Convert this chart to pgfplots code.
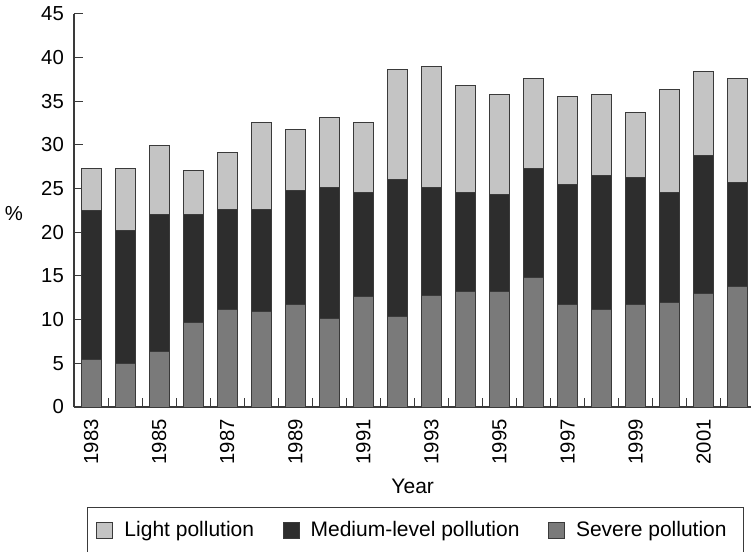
\documentclass[border=0pt]{standalone}
\usepackage{fontspec}
\setmainfont{Liberation Sans}
\usepackage{pgfplots}
\pgfplotsset{compat=1.18}
\definecolor{lightc}{HTML}{C4C4C4}
\definecolor{medc}{HTML}{2D2D2D}
\definecolor{sevc}{HTML}{7A7A7A}
\definecolor{edgec}{HTML}{3A3A3A}
\begin{document}
\begin{tikzpicture}[font=\fontsize{20.3bp}{24bp}\selectfont]
\begin{axis}[
  at={(0,0)}, anchor=south west,
  x=34.04bp, y=8.742bp,
  xmin=-0.5, xmax=19.4, ymin=0, ymax=45,
  enlargelimits=false,
  ybar stacked, bar width=20bp,
  axis lines*=left,
  axis line style={draw=edgec, line width=1.1bp},
  tick align=inside,
  xtick align=inside, ytick align=inside,
  major tick length=9bp,
  tick style={draw=edgec, line width=1bp},
  ytick={0,5,...,45},
  yticklabel style={anchor=east, inner sep=0pt},
  yticklabel shift=10bp,
  xtick={0.5,1.5,...,18.5},
  xticklabel={\mbox{}},
  extra x ticks={0,2,...,18},
  extra x tick labels={1983,1985,1987,1989,1991,1993,1995,1997,1999,2001},
  extra x tick style={major tick length=0pt},
  xticklabel style={rotate=90, anchor=east, inner sep=0pt},
  xticklabel shift=12bp,
  /pgf/number format/assume math mode=true,
  xlabel={Year}, ylabel={\%},
  every axis x label/.style={at={(axis description cs:0.5,0)}, anchor=center, yshift=-79.5bp, font=\fontsize{21bp}{25bp}\selectfont},
  every axis y label/.style={at={(axis description cs:0,0.493)}, anchor=center, xshift=-60bp},
  legend columns=3,
  legend style={at={(axis description cs:0,0)}, anchor=north west, xshift=13bp, yshift=-100bp,
    draw=edgec, line width=1bp, inner xsep=9bp, inner ysep=14bp,
    font=\fontsize{21bp}{25bp}\selectfont,
    nodes={inner sep=0pt, anchor=west},
    /tikz/every odd column/.append style={column sep=11bp},
    /tikz/every even column/.append style={column sep=28.5bp}},
]
\addlegendimage{legend image code/.code={\draw[fill=lightc,draw=edgec,line width=1bp] (0bp,-8bp) rectangle (16bp,8bp);}}
\addlegendentry{Light pollution}
\addlegendimage{legend image code/.code={\draw[fill=medc,draw=edgec,line width=1bp] (0bp,-8bp) rectangle (16bp,8bp);}}
\addlegendentry{Medium-level pollution}
\addlegendimage{legend image code/.code={\draw[fill=sevc,draw=edgec,line width=1bp] (0bp,-8bp) rectangle (16bp,8bp);}}
\addlegendentry{Severe pollution\rule{8bp}{0pt}}
% severe
\addplot[fill=sevc, draw=edgec, line width=1bp] coordinates {
(0,5.49) (1,4.92) (2,6.33) (3,9.61) (4,11.17) (5,10.95) (6,11.78) (7,10.18) (8,12.59) (9,10.37)
(10,12.81) (11,13.23) (12,13.23) (13,14.84) (14,11.78) (15,11.17) (16,11.78) (17,11.98) (18,13.01) (19,13.84)};
% medium
\addplot[fill=medc, draw=edgec, line width=1bp] coordinates {
(0,16.94) (1,15.29) (2,15.71) (3,12.43) (4,11.45) (5,11.67) (6,12.97) (7,14.88) (8,11.89) (9,15.68)
(10,12.25) (11,11.25) (12,11.03) (13,12.43) (14,13.70) (15,15.30) (16,14.50) (17,12.50) (18,15.71) (19,11.83)};
% light
\addplot[fill=lightc, draw=edgec, line width=1bp] coordinates {
(0,4.80) (1,7.02) (2,7.82) (3,5.00) (4,6.44) (5,9.87) (6,6.94) (7,8.04) (8,8.01) (9,12.51)
(10,13.88) (11,12.25) (12,11.44) (13,10.26) (14,10.03) (15,9.23) (16,7.40) (17,11.83) (18,9.61) (19,11.86)};
\end{axis}
\pgfresetboundingbox
\path[use as bounding box] (-74bp,-145bp) rectangle (677bp,407bp);
\end{tikzpicture}
\end{document}
